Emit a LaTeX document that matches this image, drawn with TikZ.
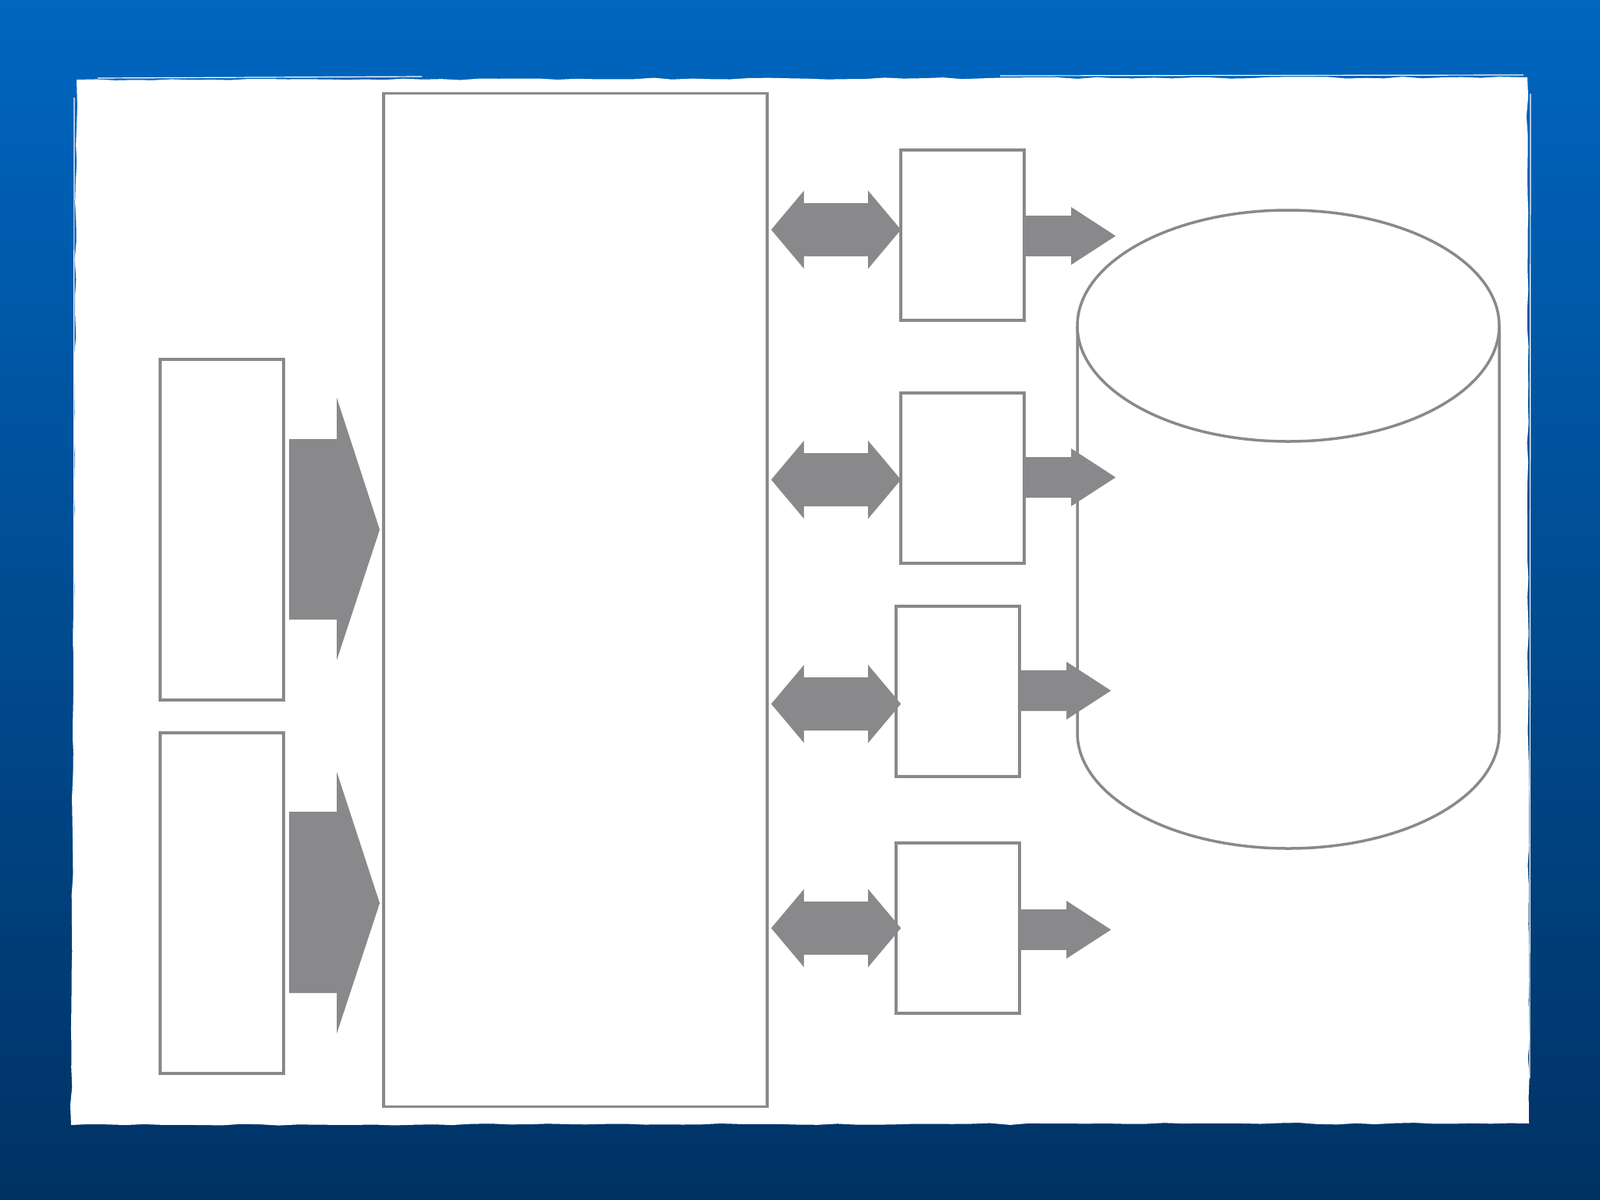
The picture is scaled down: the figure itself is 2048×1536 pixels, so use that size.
\documentclass[tikz,border=0pt]{standalone}
\usetikzlibrary{calc,decorations.pathmorphing}
\definecolor{bgtop}{RGB}{0,102,192}
\definecolor{bgbot}{RGB}{0,50,100}
\definecolor{lgray}{RGB}{137,137,139}
\tikzset{
  box/.style={draw=lgray, line width=0.035cm, fill=white, inner sep=0pt, outer sep=0pt},
  arrowfill/.style={fill=lgray},
  edge/.style={draw=lgray, line width=0.035cm},
}
\begin{document}
\begin{tikzpicture}[x=0.01cm,y=-0.01cm]
\useasboundingbox (0,0) rectangle (2048,1536);
% background
\shade[top color=bgtop, bottom color=bgbot] (0,0) rectangle (2048,1536);
% white panel with slightly rough edges
\fill[white, decorate, decoration={random steps, segment length=7pt, amplitude=0.35pt}]
  (98,102) -- (1955,99) -- (1957,1438) -- (91,1440) -- cycle;
\fill[white] (102,106) rectangle (1950,1432);
\draw[white, line width=0.012cm] (125,100) -- (540,98);
\draw[white, line width=0.012cm] (1280,97) -- (1950,96);
\draw[white, line width=0.012cm] (95,125) -- (94,1420);
\draw[white, line width=0.012cm] (1959,120) -- (1958,1380);

% main boxes
\node[box, minimum width=4.91cm, minimum height=12.96cm] (big) at (736.5,768) {};
\node[box, minimum width=1.58cm, minimum height=4.36cm] (in1) at (284,678) {};
\node[box, minimum width=1.58cm, minimum height=4.36cm] (in2) at (284,1156) {};

\node[box, minimum width=1.58cm, minimum height=2.18cm] (s1) at (1232,301) {};
\node[box, minimum width=1.58cm, minimum height=2.18cm] (s2) at (1232,612) {};
\node[box, minimum width=1.58cm, minimum height=2.18cm] (s3) at (1226,885) {};
\node[box, minimum width=1.58cm, minimum height=2.18cm] (s4) at (1226,1188) {};

% cylinder (database)
\coordinate (cyl) at (1649,417);
\fill[white] (1379,417) -- (1379,938) arc[start angle=180, end angle=0, x radius=270, y radius=148] -- (1919,417) -- cycle;
\draw[edge] (1379,417) -- (1379,938) arc[start angle=180, end angle=0, x radius=270, y radius=148] -- (1919,417);
\draw[edge, fill=white] (cyl) ellipse[x radius=270, y radius=148];

% big input arrows
\fill[arrowfill] (in1.east) ++(7,-116) -- ++(61,0) -- ++(0,-53) -- ++(55,169) -- ++(-55,167) -- ++(0,-52) -- ++(-61,0) -- cycle;
\fill[arrowfill] (in2.east) ++(7,-117) -- ++(61,0) -- ++(0,-51) -- ++(55,168) -- ++(-55,167) -- ++(0,-52) -- ++(-61,0) -- cycle;

% double arrows between big box and small boxes
\coordinate (d1) at ($(big.east)+(5,0)$);
\foreach \c/\yy in {s1/294, s2/614, s3/901, s4/1188}{
  \fill[arrowfill] (d1 |- 0,\yy) -- ++(42,-50) -- ++(0,16) -- ++(82,0) -- ++(0,-16) -- ++(42,50)
     -- ++(-42,50) -- ++(0,-16) -- ++(-82,0) -- ++(0,16) -- cycle;
}

% output arrows toward database
\foreach \s/\dy in {s1/1, s2/-1, s3/-1, s4/2}{
  \fill[arrowfill] (\s.east) ++(0,\dy) ++(0,-26) -- ++(60,0) -- ++(0,-11) -- ++(57,37) -- ++(-57,37) -- ++(0,-11) -- ++(-60,0) -- cycle;
}
\end{tikzpicture}
\end{document}
